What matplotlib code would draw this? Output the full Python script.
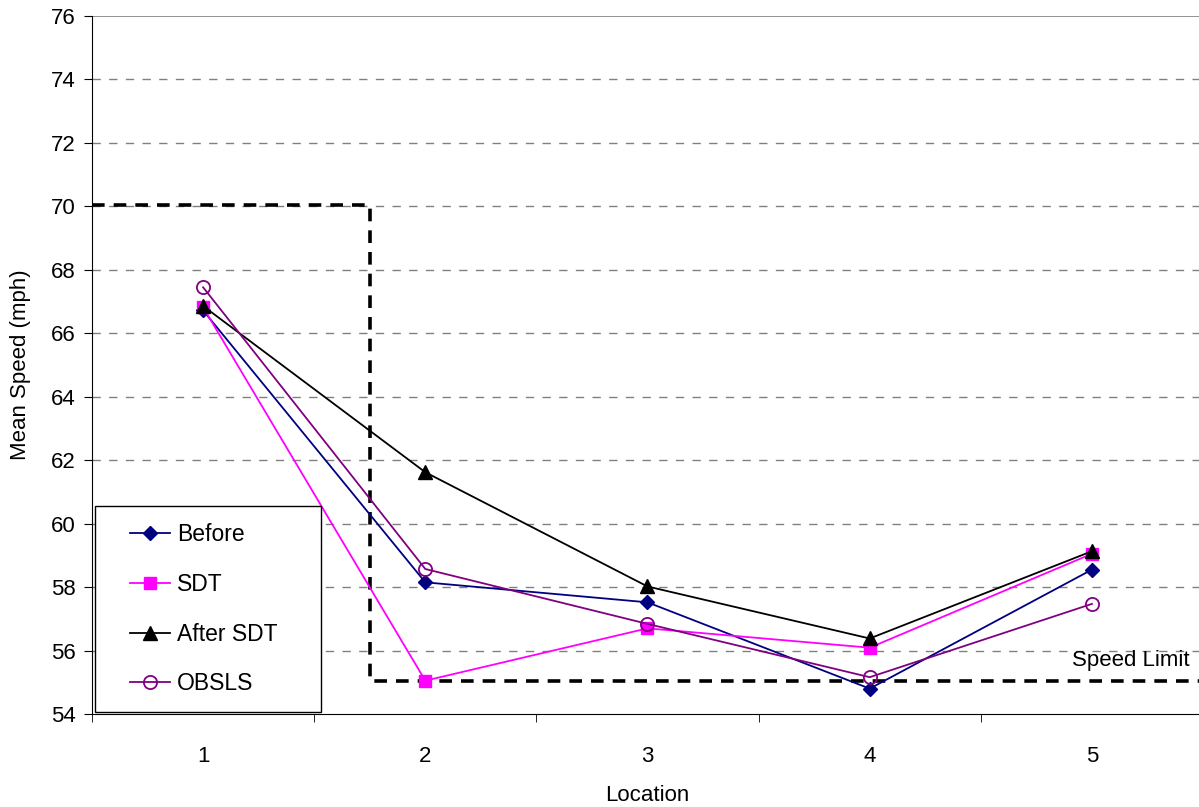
import matplotlib.pyplot as plt
from matplotlib.patches import Rectangle
import numpy as np

plt.rcParams['font.family'] = ['Liberation Sans', 'DejaVu Sans']

locations = [1, 2, 3, 4, 5]
before = [66.72, 58.15, 57.52, 54.80, 58.55]
sdt = [66.82, 55.05, 56.70, 56.09, 59.05]
after_sdt = [66.86, 61.62, 58.02, 56.38, 59.13]
obsls = [67.45, 58.57, 56.84, 55.16, 57.47]

# speed limit outline: 70 mph up to location ~1.75, then 55 mph
limit_x = [0.5, 1.75, 1.75, 5.5]
limit_y = [70.05, 70.05, 55.03, 55.03]

W, H = 1199, 807
fig = plt.figure(figsize=(W / 100, H / 100), dpi=100)
ax = fig.add_axes([92 / W, 93 / H, (1203 - 92) / W, 698 / H])

for y in np.arange(56, 76, 2):
    ax.axhline(y, color='#808080', lw=1.0, dashes=(6, 6), zorder=0)
ax.axhline(76, color='#808080', lw=1.2, zorder=0)

ax.plot(limit_x, limit_y, color='black', lw=2.6, dashes=(3.5, 2.5), zorder=1)
ax.text(5.44, 55.7, 'Speed Limit', fontsize=16, ha='right', va='center')

ax.plot(locations, before, color='#000080', lw=1.3, marker='D', ms=7,
        label='Before', zorder=3)
ax.plot(locations, sdt, color='#FF00FF', lw=1.3, marker='s', ms=8.5,
        label='SDT', zorder=3)
ax.plot(locations, after_sdt, color='black', lw=1.3, marker='^', ms=9.5,
        label='After SDT', zorder=4)
ax.plot(locations, obsls, color='#800080', lw=1.3, marker='o', ms=9.5,
        mfc='none', mew=1.3, label='OBSLS', zorder=4)

ax.set_xlim(0.5, 5.5)
ax.set_ylim(54, 76)
ax.set_yticks(np.arange(54, 77, 2))
ax.set_xticks(locations)
ax.set_xticks(np.arange(0.5, 5.6, 1), minor=True)
ax.tick_params(axis='x', which='major', length=0, pad=23, labelsize=16)
ax.tick_params(axis='x', which='minor', length=6, direction='out')
ax.tick_params(axis='y', length=6, pad=6, direction='out', labelsize=16)
ax.spines['top'].set_visible(False)
ax.spines['right'].set_visible(False)

ax.set_xlabel('Location', fontsize=16, labelpad=13)
ax.set_ylabel('Mean Speed (mph)', fontsize=16, labelpad=14)

# legend frame drawn separately so the padding matches the original
frame = Rectangle((95 / W, 1 - 712 / H), 226 / W, 206 / H, transform=fig.transFigure,
                  facecolor='white', edgecolor='black', lw=1.0, zorder=5)
fig.patches.append(frame)
leg = fig.legend(*ax.get_legend_handles_labels(), loc='upper left',
                 bbox_to_anchor=(130 / W, 1 - 523 / H), fontsize=16.5, frameon=False,
                 handlelength=1.75, handletextpad=0.3, labelspacing=1.17,
                 borderpad=0, borderaxespad=0)
leg.set_zorder(6)

fig.savefig('out.png', dpi=100)
